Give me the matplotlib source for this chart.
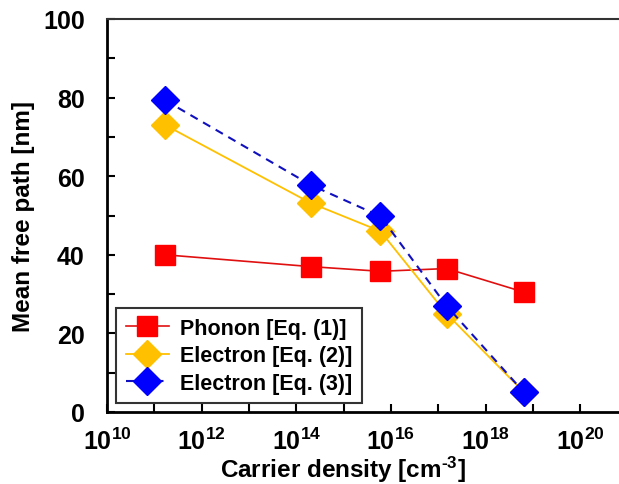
"""
Mean free path vs carrier density (phonon and electron estimates).
"""
import matplotlib
matplotlib.use('Agg')
import matplotlib.pyplot as plt
from matplotlib.ticker import FixedLocator, NullFormatter

plt.rcParams['font.family'] = ['Liberation Sans', 'DejaVu Sans']
plt.rcParams['font.weight'] = 'bold'
plt.rcParams['mathtext.fontset'] = 'custom'
plt.rcParams['mathtext.rm'] = 'Liberation Sans:bold'
plt.rcParams['mathtext.bf'] = 'Liberation Sans:bold'
plt.rcParams['mathtext.default'] = 'bf'

# data
carrier_density = [1.7e11, 2.0e14, 6.0e15, 1.5e17, 6.5e18]
phonon_mfp = [40.0, 37.0, 35.8, 36.5, 30.5]
electron_eq2_mfp = [73.0, 53.2, 46.0, 25.0, 5.0]
electron_eq3_mfp = [79.3, 57.8, 49.8, 27.0, 5.0]

series_labels = ['Phonon [Eq. (1)]', 'Electron [Eq. (2)]', 'Electron [Eq. (3)]']
x_tick_exps = [10, 12, 14, 16, 18, 20]
y_ticks = [0, 20, 40, 60, 80, 100]

COLORS = {
    'phonon': '#FF0000',
    'phonon_line': '#E01010',
    'eq2': '#FFC000',
    'eq3': '#0000FF',
    'eq3_line': '#1010C0',
}

fig = plt.figure(figsize=(6.19, 4.85), dpi=100)
ax = fig.add_axes([107 / 619, (485 - 413) / 485, 1 - 107 / 619, (413 - 20) / 485])

ax.plot(carrier_density, phonon_mfp, color=COLORS['phonon_line'], linewidth=1.2,
        marker='s', markersize=15, markerfacecolor=COLORS['phonon'],
        markeredgecolor=COLORS['phonon'], label=series_labels[0], zorder=3)
ax.plot(carrier_density, electron_eq2_mfp, color=COLORS['eq2'], linewidth=1.3,
        marker='D', markersize=14, markerfacecolor=COLORS['eq2'],
        markeredgecolor=COLORS['eq2'], label=series_labels[1], zorder=4)
ax.plot(carrier_density, electron_eq3_mfp, color=COLORS['eq3_line'], linewidth=1.5,
        linestyle=(0, (4, 3)), marker='D', markersize=14,
        markerfacecolor=COLORS['eq3'], markeredgecolor=COLORS['eq3'],
        label=series_labels[2], zorder=5)

ax.set_xscale('log')
ax.set_xlim(1e10, 10 ** 20.82)
ax.set_ylim(0, 100)

ax.xaxis.set_major_locator(FixedLocator([10.0 ** e for e in x_tick_exps]))
ax.xaxis.set_minor_locator(FixedLocator([10.0 ** e for e in range(11, 21, 2)]))
ax.xaxis.set_minor_formatter(NullFormatter())
ax.set_xticklabels([f'10$^{{{e}}}$' for e in x_tick_exps])
ax.yaxis.set_major_locator(FixedLocator(y_ticks))
ax.yaxis.set_minor_locator(FixedLocator(range(10, 100, 20)))

ax.tick_params(axis='both', which='both', direction='in', width=1.5, length=6,
               labelsize=18)
ax.tick_params(axis='y', pad=16)
ax.tick_params(axis='x', pad=11)

for side in ['left', 'bottom']:
    ax.spines[side].set_linewidth(2)
ax.spines['top'].set_linewidth(1.5)
ax.spines['top'].set_color('#333333')
ax.spines['right'].set_visible(False)

# x label placed by hand so it sits at the bottom edge like the original
fig.text(343 / 619, 7 / 485, r'Carrier density [cm$^{\text{-3}}$]', fontsize=17.5,
         fontweight='bold', ha='center', va='baseline')
ax.set_ylabel('Mean free path [nm]', fontsize=17.5, fontweight='bold', labelpad=6)

leg = ax.legend(loc='lower left', bbox_to_anchor=(0.018, 0.022), fontsize=15.5,
                frameon=True, fancybox=False, edgecolor='black',
                handlelength=2.0, handletextpad=0.5, borderpad=0.45,
                labelspacing=0.3, borderaxespad=0)
leg.get_frame().set_linewidth(1.5)
for t in leg.get_texts():
    t.set_fontweight('bold')

plt.savefig('out.png', dpi=100)
plt.close()
